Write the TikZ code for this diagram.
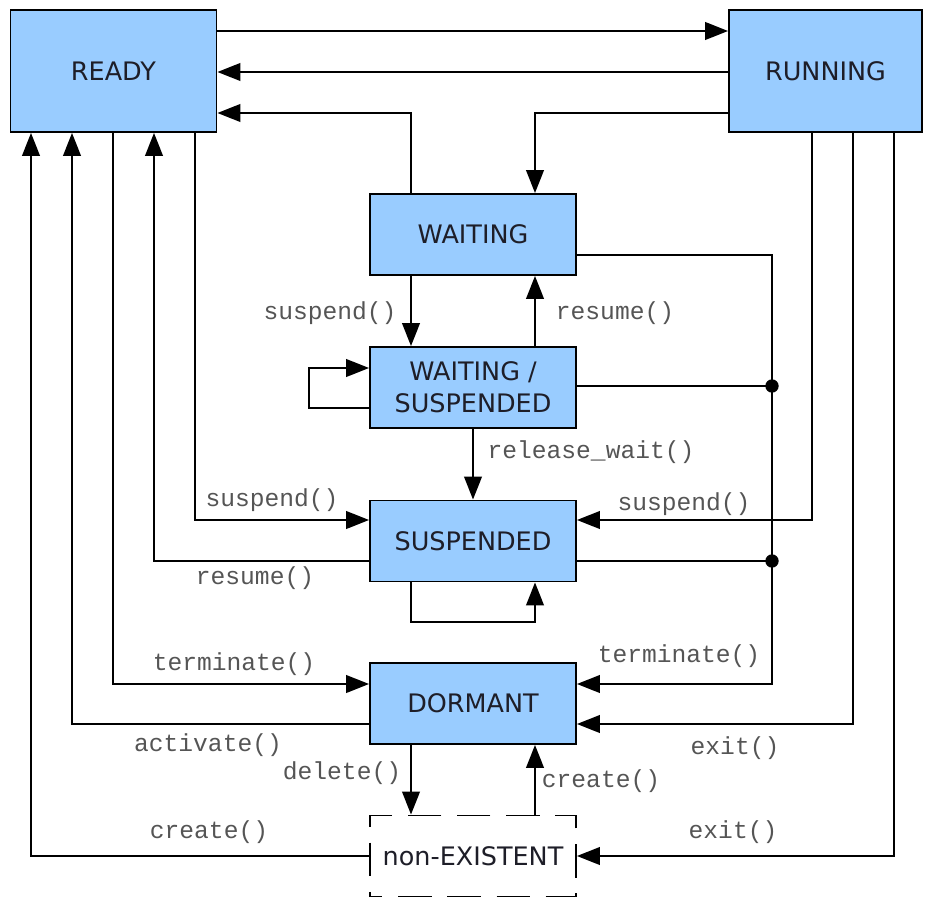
\documentclass[tikz,border=0pt]{standalone}
\usepackage{fontspec}
\setmainfont{DejaVu Sans}
\newfontfamily\codefont{Liberation Mono}
\usetikzlibrary{arrows.meta}
\definecolor{boxblue}{RGB}{153,204,255}
\definecolor{labelgray}{RGB}{85,85,85}
\definecolor{boxtext}{RGB}{30,30,40}

\begin{document}
\begin{tikzpicture}[x=0.02cm,y=-0.02cm,line width=1.1pt,
        >={Triangle[length=13pt,width=10pt]},
        state/.style={draw,fill=boxblue,text=boxtext,minimum width=4.12cm,minimum height=1.62cm,
            inner sep=0pt,align=center,font=\fontsize{14.5}{18}\selectfont},
        lbl/.style={inner sep=0pt,text=labelgray,font=\codefont\fontsize{14}{16}\selectfont}]
        \useasboundingbox (0,0) rectangle (925,898);

        \node[state,minimum height=2.44cm] (ready) at (113.5,71) {READY};
        \node[state,minimum width=3.86cm,minimum height=2.44cm] (running) at (825.5,71) {RUNNING};
        \node[state] (waiting) at (473,234.5) {WAITING};
        \node[state] (waitsusp) at (473,387.5) {WAITING /\\SUSPENDED};
        \node[state] (suspended) at (473,541) {SUSPENDED};
        \node[state] (dormant) at (473,703.5) {DORMANT};
        \node[state,fill=none,dash pattern=on 19pt off 9pt,dash phase=12pt] (nonexist) at (473,856) {non-EXISTENT};

        \coordinate (j1) at (772,386);
        \coordinate (j2) at (772,561);
        \coordinate (loopw) at (309,388);
        \coordinate (loops) at (473,622);

        \draw[->] (ready.east |- 0,31) -- (running.west |- 0,31);
        \draw[->] (running.west |- 0,72) -- (ready.east |- 0,72);
        \draw[->] (waiting.north -| 411,0) |- (ready.east |- 0,113);
        \draw[->] (running.west |- 0,113) -| (waiting.north -| 535,0);

        \draw[->] (nonexist.west) -| (ready.south -| 31,0);
        \draw[->] (dormant.west |- 0,724) -| (ready.south -| 72,0);
        \draw[->] (ready.south -| 113,0) |- (dormant.west |- 0,684);
        \draw[->] (suspended.west |- 0,561) -| (ready.south -| 154,0);
        \draw[->] (ready.south -| 195,0) |- (suspended.west |- 0,520);

        \draw[->] (running.south -| 812,0) |- (suspended.east |- 0,520);
        \draw[->] (running.south -| 853,0) |- (dormant.east |- 0,724);
        \draw[->] (running.south -| 894,0) |- (nonexist.east);

        \draw[->] (waiting.east |- 0,255) -| (j1) -- (j2) |- (dormant.east |- 0,684);
        \draw (waitsusp.east |- 0,386) -- (j1);
        \draw (suspended.east |- 0,561) -- (j2);
        \fill (j1) circle (3.8pt);
        \fill (j2) circle (3.8pt);

        \draw[->] (waiting.south -| 411,0) -- (waitsusp.north -| 411,0);
        \draw[->] (waitsusp.north -| 535,0) -- (waiting.south -| 535,0);
        \draw[->] (waitsusp.west |- 0,408) -| (loopw) |- (waitsusp.west |- 0,368);
        \draw[->] (waitsusp) -- (suspended);
        \draw[->] (suspended.south -| 411,0) |- (loops) -| (suspended.south -| 535,0);
        \draw[->] (dormant.south -| 411,0) -- (nonexist.north -| 411,0);
        \draw[->] (nonexist.north -| 535,0) -- (dormant.south -| 535,0);

        \node[lbl] (l-susp-w) at (330,313) {suspend()};
        \node[lbl] (l-res-w) at (615,313) {resume()};
        \node[lbl] (l-release) at (591,452) {release\_wait()};
        \node[lbl] (l-susp-r) at (272,500) {suspend()};
        \node[lbl] (l-susp-run) at (684,504) {suspend()};
        \node[lbl] (l-res-r) at (255,578) {resume()};
        \node[lbl] (l-term-r) at (234,664) {terminate()};
        \node[lbl] (l-term-w) at (679,656) {terminate()};
        \node[lbl] (l-act) at (208,745) {activate()};
        \node[lbl] (l-exit-d) at (735,748) {exit()};
        \node[lbl] (l-del) at (342,773) {delete()};
        \node[lbl] (l-cre-d) at (601,781) {create()};
        \node[lbl] (l-cre-r) at (209,832) {create()};
        \node[lbl] (l-exit-n) at (733,832) {exit()};
    \end{tikzpicture}
\end{document}
